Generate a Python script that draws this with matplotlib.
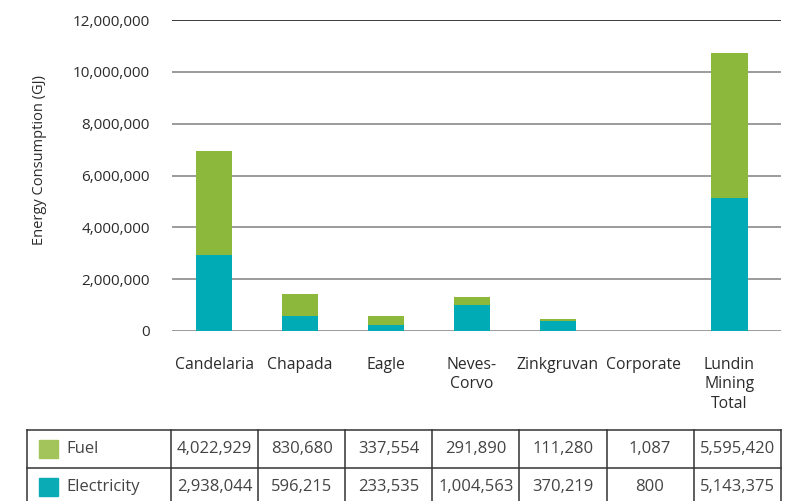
import numpy as np
import matplotlib
matplotlib.use("Agg")
import matplotlib.pyplot as plt
from matplotlib.patches import Rectangle

plt.rcParams['font.family'] = ['Open Sans', 'DejaVu Sans']

sites = ['Candelaria', 'Chapada', 'Eagle', 'Neves-\nCorvo', 'Zinkgruvan', 'Corporate', 'Lundin\nMining\nTotal']
fuel = [4022929, 830680, 337554, 291890, 111280, 1087, 5595420]
electricity = [2938044, 596215, 233535, 1004563, 370219, 800, 5143375]
y_ticks = [0, 2000000, 4000000, 6000000, 8000000, 10000000, 12000000]

fuel_color = '#8cb83b'
elec_color = '#00abb6'
text_color = '#2b2b2b'

W, H = 791, 501
fig = plt.figure(figsize=(W / 100, H / 100), dpi=100)

# main bar chart
ax = fig.add_axes([172 / W, 1 - 331 / H, (781 - 172) / W, (331 - 20) / H])
x = np.arange(len(sites))
ax.bar(x, electricity, width=0.42, color=elec_color, zorder=3)
ax.bar(x, fuel, width=0.42, bottom=electricity, color=fuel_color, zorder=3)

ax.set_xlim(-0.49, 6.6)
ax.set_ylim(0, 12000000)
ax.set_yticks(y_ticks)
ax.set_yticklabels([f'{v:,}' for v in y_ticks])
ax.tick_params(axis='y', length=0, pad=16, labelsize=11, labelcolor=text_color)
ax.set_xticks([])
for s in ax.spines.values():
    s.set_visible(False)
for v in y_ticks:
    ax.axhline(v, color='#1a1a1a' if v == y_ticks[-1] else '#8a8a8a', lw=1.2, zorder=1)

for i, name in enumerate(sites):
    ax.text(i, -0.083, name, transform=ax.get_xaxis_transform(), ha='center', va='top',
            fontsize=11.3, color=text_color, linespacing=1.28)

fig.text(40 / W, 1 - 160 / H, 'Energy Consumption (GJ)', rotation=90, ha='center', va='center',
         fontsize=10.5, color=text_color)

# data table below the chart (pixel layout)
tab = fig.add_axes([0, 0, 1, 1], zorder=-1)
tab.set_xlim(0, W)
tab.set_ylim(H, 0)
tab.axis('off')

left, first_w, col_w = 27, 144, 87.1
top, row_h = 430, 38
rows = [('Fuel', fuel, '#a3c45a'), ('Electricity', electricity, '#0aabb5')]
n_cols = len(sites)
right = left + first_w + col_w * n_cols
line_kw = dict(color='#333333', lw=1.1)

for r in range(len(rows) + 1):
    tab.plot([left, right], [top + r * row_h] * 2, **line_kw)
tab.plot([left, left], [top, top + len(rows) * row_h], **line_kw)
for c in range(n_cols + 1):
    xc = left + first_w + c * col_w
    tab.plot([xc, xc], [top, top + len(rows) * row_h], **line_kw)

for r, (label, vals, sw) in enumerate(rows):
    yc = top + (r + 0.5) * row_h
    tab.add_patch(Rectangle((39, yc - 9.5), 19, 18, color=sw))
    tab.text(66, yc, label, ha='left', va='center', fontsize=12, color='#444444')
    for c, v in enumerate(vals):
        xc = left + first_w + (c + 0.5) * col_w
        tab.text(xc, yc, f'{v:,}', ha='center', va='center', fontsize=12, color='#444444')

fig.savefig('out.png', dpi=100)
